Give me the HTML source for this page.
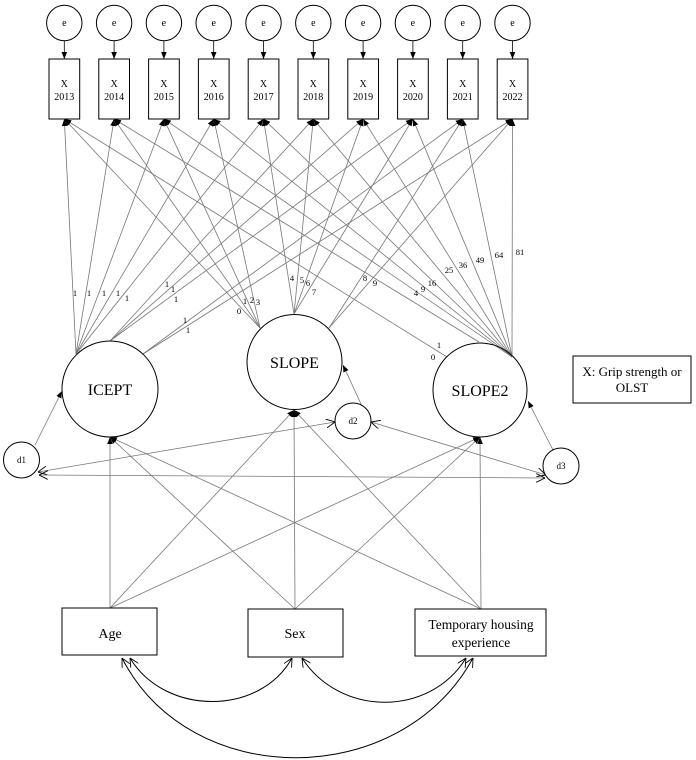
<!DOCTYPE html>
<html><head><meta charset="utf-8"><style>
html,body{margin:0;padding:0;background:#fff;}
svg{display:block;font-family:"Liberation Serif",serif;}
</style></head><body>
<svg width="696" height="760" viewBox="0 0 696 760" xmlns="http://www.w3.org/2000/svg">
<defs>
<marker id="f" viewBox="0 0 10 10" refX="10" refY="5" markerWidth="7" markerHeight="7" markerUnits="userSpaceOnUse" orient="auto"><path d="M0,1 L10,5 L0,9 z" fill="#000"/></marker>
<marker id="o" viewBox="0 0 10 10" refX="10" refY="5" markerWidth="9" markerHeight="9" markerUnits="userSpaceOnUse" orient="auto-start-reverse"><path d="M0,0 L10,5 L0,10" fill="none" stroke="#000" stroke-width="1"/></marker>
</defs>
<g id="top"></g>
<g stroke="#777" stroke-width="0.8" fill="none" marker-end="url(#f)">
<!-- ICEPT -->
<line x1="76" y1="354" x2="64.3" y2="119"/>
<line x1="76" y1="354" x2="114.1" y2="119"/>
<line x1="76" y1="354" x2="163.9" y2="119"/>
<line x1="76" y1="354" x2="213.7" y2="119"/>
<line x1="76" y1="354" x2="263.5" y2="119"/>
<line x1="110" y1="341" x2="313.3" y2="119"/>
<line x1="110" y1="341" x2="363.1" y2="119"/>
<line x1="110" y1="341" x2="412.9" y2="119"/>
<line x1="143" y1="354" x2="462.7" y2="119"/>
<line x1="143" y1="354" x2="512.5" y2="119"/>
<!-- SLOPE -->
<line x1="260" y1="328" x2="64.3" y2="119"/>
<line x1="260" y1="328" x2="114.1" y2="119"/>
<line x1="260" y1="328" x2="163.9" y2="119"/>
<line x1="260" y1="328" x2="213.7" y2="119"/>
<line x1="294" y1="314" x2="263.5" y2="119"/>
<line x1="294" y1="314" x2="313.3" y2="119"/>
<line x1="294" y1="314" x2="363.1" y2="119"/>
<line x1="294" y1="314" x2="412.9" y2="119"/>
<line x1="329" y1="328" x2="462.7" y2="119"/>
<line x1="329" y1="328" x2="512.5" y2="119"/>
<!-- SLOPE2 -->
<line x1="447" y1="357" x2="64.3" y2="119"/>
<line x1="479" y1="342" x2="114.1" y2="119"/>
<line x1="512" y1="357" x2="163.9" y2="119"/>
<line x1="512" y1="357" x2="213.7" y2="119"/>
<line x1="512" y1="357" x2="263.5" y2="119"/>
<line x1="512" y1="357" x2="313.3" y2="119"/>
<line x1="512" y1="357" x2="363.1" y2="119"/>
<line x1="512" y1="357" x2="412.9" y2="119"/>
<line x1="512" y1="357" x2="462.7" y2="119"/>
<line x1="512" y1="357" x2="512.5" y2="119"/>
<!-- predictors -->
<line x1="110" y1="608" x2="110" y2="437"/>
<line x1="110" y1="608" x2="294" y2="410"/>
<line x1="110" y1="608" x2="480" y2="437"/>
<line x1="295" y1="609" x2="110" y2="437"/>
<line x1="295" y1="609" x2="294" y2="410"/>
<line x1="295" y1="609" x2="480" y2="437"/>
<line x1="481" y1="609" x2="110" y2="437"/>
<line x1="481" y1="609" x2="294" y2="410"/>
<line x1="481" y1="609" x2="480" y2="437"/>
<!-- disturbances -->
<line x1="35" y1="445" x2="62" y2="391"/>
<line x1="361" y1="404" x2="343" y2="365"/>
<line x1="553" y1="450" x2="528" y2="401"/>
</g>
<g stroke="#777" stroke-width="0.8" fill="none" marker-start="url(#o)" marker-end="url(#o)">
<line x1="38" y1="472" x2="335" y2="422"/>
<line x1="39" y1="475" x2="545" y2="478"/>
<line x1="371" y1="422" x2="546" y2="475"/>
</g>
<g stroke="#000" stroke-width="1" fill="none" marker-start="url(#o)" marker-end="url(#o)">
<path d="M130,658 C165,716 260,716 292,658"/>
<path d="M302,658 C340,717 430,717 466,658"/>
<path d="M122,658 C190,791 400,791 473,658"/>
</g>
<!-- e circles and boxes -->
<g stroke="#000" stroke-width="1" fill="#fff" font-size="10" text-anchor="middle">
<g id="items"></g>
</g>
<g font-size="10" text-anchor="middle" fill="#000">
<circle cx="64.3" cy="23" r="17.7" fill="#fff" stroke="#000"/><text x="64.3" y="26">e</text><line x1="64.3" y1="41" x2="64.3" y2="59" stroke="#000" stroke-width="0.8" marker-end="url(#f)"/><rect x="49" y="59" width="30.7" height="60" fill="#fff" stroke="#000"/><text x="64.3" y="87">X</text><text x="64.3" y="100">2013</text>
<circle cx="114.1" cy="23" r="17.7" fill="#fff" stroke="#000"/><text x="114.1" y="26">e</text><line x1="114.1" y1="41" x2="114.1" y2="59" stroke="#000" stroke-width="0.8" marker-end="url(#f)"/><rect x="98.8" y="59" width="30.7" height="60" fill="#fff" stroke="#000"/><text x="114.1" y="87">X</text><text x="114.1" y="100">2014</text>
<circle cx="163.9" cy="23" r="17.7" fill="#fff" stroke="#000"/><text x="163.9" y="26">e</text><line x1="163.9" y1="41" x2="163.9" y2="59" stroke="#000" stroke-width="0.8" marker-end="url(#f)"/><rect x="148.6" y="59" width="30.7" height="60" fill="#fff" stroke="#000"/><text x="163.9" y="87">X</text><text x="163.9" y="100">2015</text>
<circle cx="213.7" cy="23" r="17.7" fill="#fff" stroke="#000"/><text x="213.7" y="26">e</text><line x1="213.7" y1="41" x2="213.7" y2="59" stroke="#000" stroke-width="0.8" marker-end="url(#f)"/><rect x="198.4" y="59" width="30.7" height="60" fill="#fff" stroke="#000"/><text x="213.7" y="87">X</text><text x="213.7" y="100">2016</text>
<circle cx="263.5" cy="23" r="17.7" fill="#fff" stroke="#000"/><text x="263.5" y="26">e</text><line x1="263.5" y1="41" x2="263.5" y2="59" stroke="#000" stroke-width="0.8" marker-end="url(#f)"/><rect x="248.2" y="59" width="30.7" height="60" fill="#fff" stroke="#000"/><text x="263.5" y="87">X</text><text x="263.5" y="100">2017</text>
<circle cx="313.3" cy="23" r="17.7" fill="#fff" stroke="#000"/><text x="313.3" y="26">e</text><line x1="313.3" y1="41" x2="313.3" y2="59" stroke="#000" stroke-width="0.8" marker-end="url(#f)"/><rect x="298" y="59" width="30.7" height="60" fill="#fff" stroke="#000"/><text x="313.3" y="87">X</text><text x="313.3" y="100">2018</text>
<circle cx="363.1" cy="23" r="17.7" fill="#fff" stroke="#000"/><text x="363.1" y="26">e</text><line x1="363.1" y1="41" x2="363.1" y2="59" stroke="#000" stroke-width="0.8" marker-end="url(#f)"/><rect x="347.8" y="59" width="30.7" height="60" fill="#fff" stroke="#000"/><text x="363.1" y="87">X</text><text x="363.1" y="100">2019</text>
<circle cx="412.9" cy="23" r="17.7" fill="#fff" stroke="#000"/><text x="412.9" y="26">e</text><line x1="412.9" y1="41" x2="412.9" y2="59" stroke="#000" stroke-width="0.8" marker-end="url(#f)"/><rect x="397.6" y="59" width="30.7" height="60" fill="#fff" stroke="#000"/><text x="412.9" y="87">X</text><text x="412.9" y="100">2020</text>
<circle cx="462.7" cy="23" r="17.7" fill="#fff" stroke="#000"/><text x="462.7" y="26">e</text><line x1="462.7" y1="41" x2="462.7" y2="59" stroke="#000" stroke-width="0.8" marker-end="url(#f)"/><rect x="447.4" y="59" width="30.7" height="60" fill="#fff" stroke="#000"/><text x="462.7" y="87">X</text><text x="462.7" y="100">2021</text>
<circle cx="512.5" cy="23" r="17.7" fill="#fff" stroke="#000"/><text x="512.5" y="26">e</text><line x1="512.5" y1="41" x2="512.5" y2="59" stroke="#000" stroke-width="0.8" marker-end="url(#f)"/><rect x="497.2" y="59" width="30.7" height="60" fill="#fff" stroke="#000"/><text x="512.5" y="87">X</text><text x="512.5" y="100">2022</text>
</g>
<!-- latent circles -->
<g fill="none" stroke="#000" stroke-width="1">
<circle cx="110" cy="389" r="48"/>
<circle cx="294.5" cy="362" r="47.5"/>
<circle cx="480" cy="390" r="47"/>
<circle cx="21.5" cy="460" r="18" fill="#fff"/>
<circle cx="353" cy="421" r="18" fill="#fff"/>
<circle cx="561" cy="466" r="18" fill="#fff"/>
<rect x="62" y="608" width="95" height="47" fill="#fff"/>
<rect x="248" y="609" width="95" height="48" fill="#fff"/>
<rect x="415" y="609" width="131" height="47" fill="#fff"/>
<rect x="573" y="356" width="118" height="47" fill="#fff"/>
</g>
<g text-anchor="middle" fill="#000">
<text x="110" y="395" font-size="16">ICEPT</text>
<text x="294.5" y="368" font-size="16">SLOPE</text>
<text x="480" y="396" font-size="16">SLOPE2</text>
<text x="21.5" y="463" font-size="9">d1</text>
<text x="353" y="424" font-size="9">d2</text>
<text x="561" y="469" font-size="9">d3</text>
<text x="110" y="638" font-size="14">Age</text>
<text x="295" y="638" font-size="14">Sex</text>
<text x="481" y="629" font-size="13.5">Temporary housing</text>
<text x="481" y="647" font-size="13.5">experience</text>
<text x="632" y="376" font-size="13">X: Grip strength or</text>
<text x="632" y="392" font-size="13">OLST</text>
</g>
<g text-anchor="middle" font-size="8.5" fill="#000">
<text x="75" y="296">1</text><text x="89" y="296">1</text><text x="104" y="296">1</text><text x="118" y="296">1</text><text x="127" y="301">1</text>
<text x="167" y="287">1</text><text x="173" y="292">1</text><text x="176" y="302">1</text>
<text x="185" y="323">1</text><text x="188" y="333">1</text>
<text x="239" y="314">0</text><text x="245" y="304">1</text><text x="252" y="303">2</text><text x="258" y="305">3</text>
<text x="292" y="281">4</text><text x="302" y="283">5</text><text x="308" y="286">6</text><text x="314" y="295">7</text>
<text x="365" y="281">8</text><text x="375" y="286">9</text>
<text x="433" y="360">0</text><text x="439" y="348">1</text>
<text x="416" y="296">4</text><text x="423" y="292">9</text><text x="432" y="286">16</text><text x="449" y="273">25</text><text x="463" y="268">36</text><text x="480" y="263">49</text><text x="499" y="258">64</text><text x="520" y="255">81</text>
</g>
</svg>
</body></html>
